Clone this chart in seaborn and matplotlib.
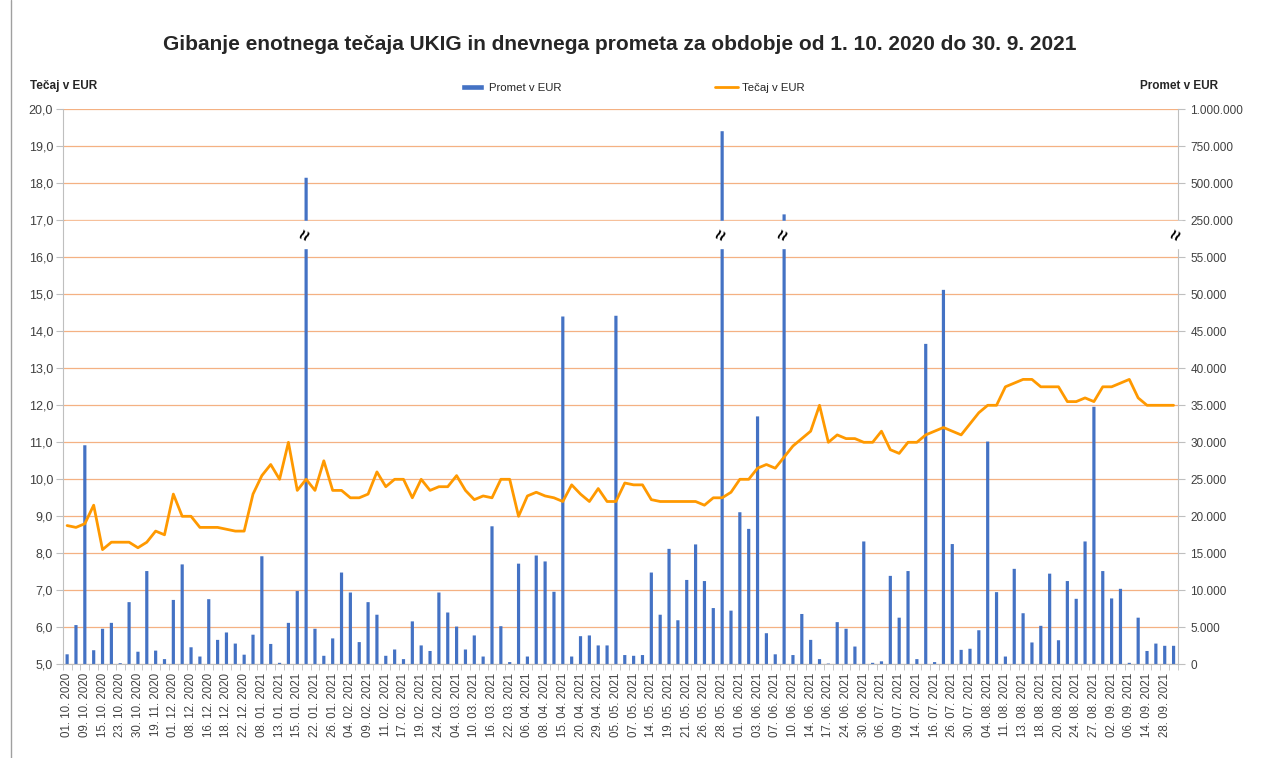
import numpy as np
import pandas as pd
import matplotlib
matplotlib.use('Agg')
import matplotlib.pyplot as plt
import seaborn as sns
from matplotlib.ticker import FuncFormatter
from matplotlib.lines import Line2D
from matplotlib.patches import Patch

# oznake na osi x (vsak drugi trgovalni dan)
datumi = [
    '01. 10. 2020', '09. 10. 2020', '15. 10. 2020', '23. 10. 2020', '30. 10. 2020',
    '19. 11. 2020', '01. 12. 2020', '08. 12. 2020', '16. 12. 2020', '18. 12. 2020',
    '22. 12. 2020', '08. 01. 2021', '13. 01. 2021', '15. 01. 2021', '22. 01. 2021',
    '26. 01. 2021', '04. 02. 2021', '09. 02. 2021', '11. 02. 2021', '17. 02. 2021',
    '19. 02. 2021', '24. 02. 2021', '04. 03. 2021', '10. 03. 2021', '16. 03. 2021',
    '22. 03. 2021', '06. 04. 2021', '08. 04. 2021', '15. 04. 2021', '20. 04. 2021',
    '29. 04. 2021', '05. 05. 2021', '07. 05. 2021', '14. 05. 2021', '19. 05. 2021',
    '21. 05. 2021', '26. 05. 2021', '28. 05. 2021', '01. 06. 2021', '03. 06. 2021',
    '07. 06. 2021', '10. 06. 2021', '14. 06. 2021', '17. 06. 2021', '24. 06. 2021',
    '30. 06. 2021', '06. 07. 2021', '09. 07. 2021', '14. 07. 2021', '16. 07. 2021',
    '26. 07. 2021', '30. 07. 2021', '04. 08. 2021', '11. 08. 2021', '13. 08. 2021',
    '18. 08. 2021', '20. 08. 2021', '24. 08. 2021', '27. 08. 2021', '02. 09. 2021',
    '06. 09. 2021', '14. 09. 2021', '28. 09. 2021',
]

# tecaj v EUR (leva os)
tecaj = [
    8.75, 8.70, 8.80, 9.30, 8.10, 8.30, 8.30, 8.30, 8.15, 8.30,
    8.60, 8.50, 9.60, 9.00, 9.00, 8.70, 8.70, 8.70, 8.65, 8.60,
    8.60, 9.60, 10.10, 10.40, 10.00, 11.00, 9.70, 10.00, 9.70, 10.50,
    9.70, 9.70, 9.50, 9.50, 9.60, 10.20, 9.80, 10.00, 10.00, 9.50,
    10.00, 9.70, 9.80, 9.80, 10.10, 9.70, 9.45, 9.55, 9.50, 10.00,
    10.00, 9.00, 9.55, 9.65, 9.55, 9.50, 9.40, 9.85, 9.60, 9.40,
    9.75, 9.40, 9.40, 9.90, 9.85, 9.85, 9.45, 9.40, 9.40, 9.40,
    9.40, 9.40, 9.30, 9.50, 9.50, 9.65, 10.00, 10.00, 10.30, 10.40,
    10.30, 10.60, 10.90, 11.10, 11.30, 12.00, 11.00, 11.20, 11.10, 11.10,
    11.00, 11.00, 11.30, 10.80, 10.70, 11.00, 11.00, 11.20, 11.30, 11.40,
    11.30, 11.20, 11.50, 11.80, 12.00, 12.00, 12.50, 12.60, 12.70, 12.70,
    12.50, 12.50, 12.50, 12.10, 12.10, 12.20, 12.10, 12.50, 12.50, 12.60,
    12.70, 12.20, 12.00, 12.00, 12.00, 12.00,
]

# dnevni promet v EUR (desna os)
promet = [
    1350, 5300, 29600, 1900, 4800, 5600, 150, 8400, 1700, 12600,
    1850, 700, 8700, 13500, 2300, 1050, 8800, 3300, 4300, 2800,
    1300, 4000, 14600, 2750, 200, 5600, 9900, 537500, 4800, 1150,
    3500, 12400, 9700, 3000, 8400, 6700, 1150, 2000, 700, 5800,
    2550, 1800, 9700, 7000, 5100, 2000, 3900, 1050, 18650, 5150,
    300, 13600, 1050, 14700, 13900, 9800, 47000, 1050, 3800, 3900,
    2550, 2550, 47100, 1250, 1150, 1250, 12400, 6700, 15600, 5950,
    11400, 16200, 11250, 7600, 852000, 7250, 20550, 18300, 33500, 4200,
    1350, 290000, 1250, 6800, 3300, 700, 100, 5700, 4800, 2400,
    16600, 200, 400, 11950, 6300, 12600, 700, 43300, 300, 50600,
    16250, 1950, 2100, 4600, 30100, 9750, 1050, 12900, 6900, 2950,
    5200, 12250, 3250, 11250, 8850, 16600, 34800, 12600, 8900, 10200,
    200, 6300, 1800, 2800, 2500, 2500,
]

n = len(tecaj)
df = pd.DataFrame({'dan': np.arange(n), 'tecaj': tecaj, 'promet': promet})

sns.set_style('ticks')
plt.rcParams['font.family'] = ['Liberation Sans', 'DejaVu Sans']

modra = '#4472C4'
oranzna = '#FF9900'
mreza = '#F4B183'
siva = '#BFBFBF'


# prelomljena desna os: 0-55.000 linearno, nad tem 250.000, 500.000 ...
def naprej(v):
    v = np.asarray(v, dtype=float)
    return np.where(v <= 55000, v / 5000,
                    np.where(v <= 250000, 11 + (v - 55000) / 195000,
                             12 + (v - 250000) / 250000))


def nazaj(u):
    u = np.asarray(u, dtype=float)
    return np.where(u <= 11, u * 5000,
                    np.where(u <= 12, 55000 + (u - 11) * 195000,
                             250000 + (u - 12) * 250000))


fig = plt.figure(figsize=(12.64, 7.58), dpi=100)
ax = fig.add_axes([62.7 / 1264, 1 - 664.3 / 758, (1178 - 62.7) / 1264, (664.3 - 109.3) / 758])
ax2 = ax.twinx()
ax2.set_yscale('function', functions=(naprej, nazaj))

sns.barplot(data=df, x='dan', y='promet', ax=ax2, color=modra, saturation=1,
            width=0.36, errorbar=None, zorder=2, snap=False, linewidth=0)
sns.lineplot(data=df, x='dan', y='tecaj', ax=ax, color=oranzna, linewidth=2.0, zorder=5)

ax.set_zorder(ax2.get_zorder() + 1)
ax.patch.set_visible(False)

# desna os
ax2.set_ylim(0, 1000000)
ax2.set_yticks(list(range(0, 55001, 5000)) + [250000, 500000, 750000, 1000000])
ax2.yaxis.set_major_formatter(FuncFormatter(lambda v, p: f'{v:,.0f}'.replace(',', '.')))
ax2.yaxis.grid(True, color=mreza, linewidth=0.9)
ax2.set_axisbelow(True)
ax2.tick_params(axis='y', direction='out', length=5, color=siva, labelsize=8.5,
                labelcolor='#404040', right=True, pad=4)
ax2.set_ylabel('')
for s in ['top', 'left', 'bottom']:
    ax2.spines[s].set_visible(False)
ax2.spines['right'].set_color(siva)

# leva os
ax.set_ylim(5, 20)
ax.set_yticks(np.arange(5, 20.5, 1))
ax.yaxis.set_major_formatter(FuncFormatter(lambda v, p: f'{v:.1f}'.replace('.', ',')))
ax.tick_params(axis='y', direction='out', length=5, color=siva, labelsize=9,
               labelcolor='#404040', left=True, pad=2)
ax.grid(False)
ax.set_ylabel('')
ax.set_xlabel('')
for s in ['top', 'right']:
    ax.spines[s].set_visible(False)
ax.spines['left'].set_color(siva)
ax.spines['bottom'].set_color(siva)

# os x
ax.set_xlim(-0.5, n - 0.5)
ax.set_xticks(np.arange(0, n, 2))
ax.set_xticklabels(datumi, rotation=90, fontsize=8.3, color='#404040')
ax.set_xticks(np.arange(-0.5, n, 1), minor=True)
ax.tick_params(axis='x', which='major', length=0, pad=6, bottom=True)
ax.tick_params(axis='x', which='minor', length=4, color=siva, direction='out', bottom=True)

# prelom osi
ax.axhspan(16.24, 16.97, xmin=0.002, xmax=1.004, color='white', zorder=3, clip_on=False)
for i in df.index[df['promet'] > 55000]:
    ax.text(i, 16.6, '≈', rotation=65, ha='center', va='center', fontsize=13,
            fontweight='bold', color='black', zorder=6)
ax.text(1.0, 16.6, '≈', rotation=65, ha='center', va='center', fontsize=13,
        fontweight='bold', color='black', zorder=6, transform=ax.get_yaxis_transform(),
        clip_on=False)

# besedila
fig.text(620 / 1264, 1 - 45 / 758,
         'Gibanje enotnega tečaja UKIG in dnevnega prometa za obdobje od 1. 10. 2020 do 30. 9. 2021',
         ha='center', va='center', fontsize=15, fontweight='bold')
fig.text(30 / 1264, 1 - 86 / 758, 'Tečaj v EUR', ha='left', va='center',
         fontsize=8.5, fontweight='bold')
fig.text(1218 / 1264, 1 - 86 / 758, 'Promet v EUR', ha='right', va='center',
         fontsize=8.5, fontweight='bold')

rocke = [Patch(facecolor=modra), Line2D([], [], color=oranzna, linewidth=2)]
fig.legend(rocke, ['Promet v EUR', 'Tečaj v EUR'], loc='center',
           bbox_to_anchor=(633 / 1264, 1 - 88 / 758), ncol=2, frameon=False,
           fontsize=8.2, columnspacing=13.5, handlelength=2.0, handleheight=0.5,
           handletextpad=0.4)

fig.add_artist(Line2D([11 / 1264, 11 / 1264], [0, 1], color='#A0A0A0', linewidth=1))

fig.savefig('out.png', dpi=100)
